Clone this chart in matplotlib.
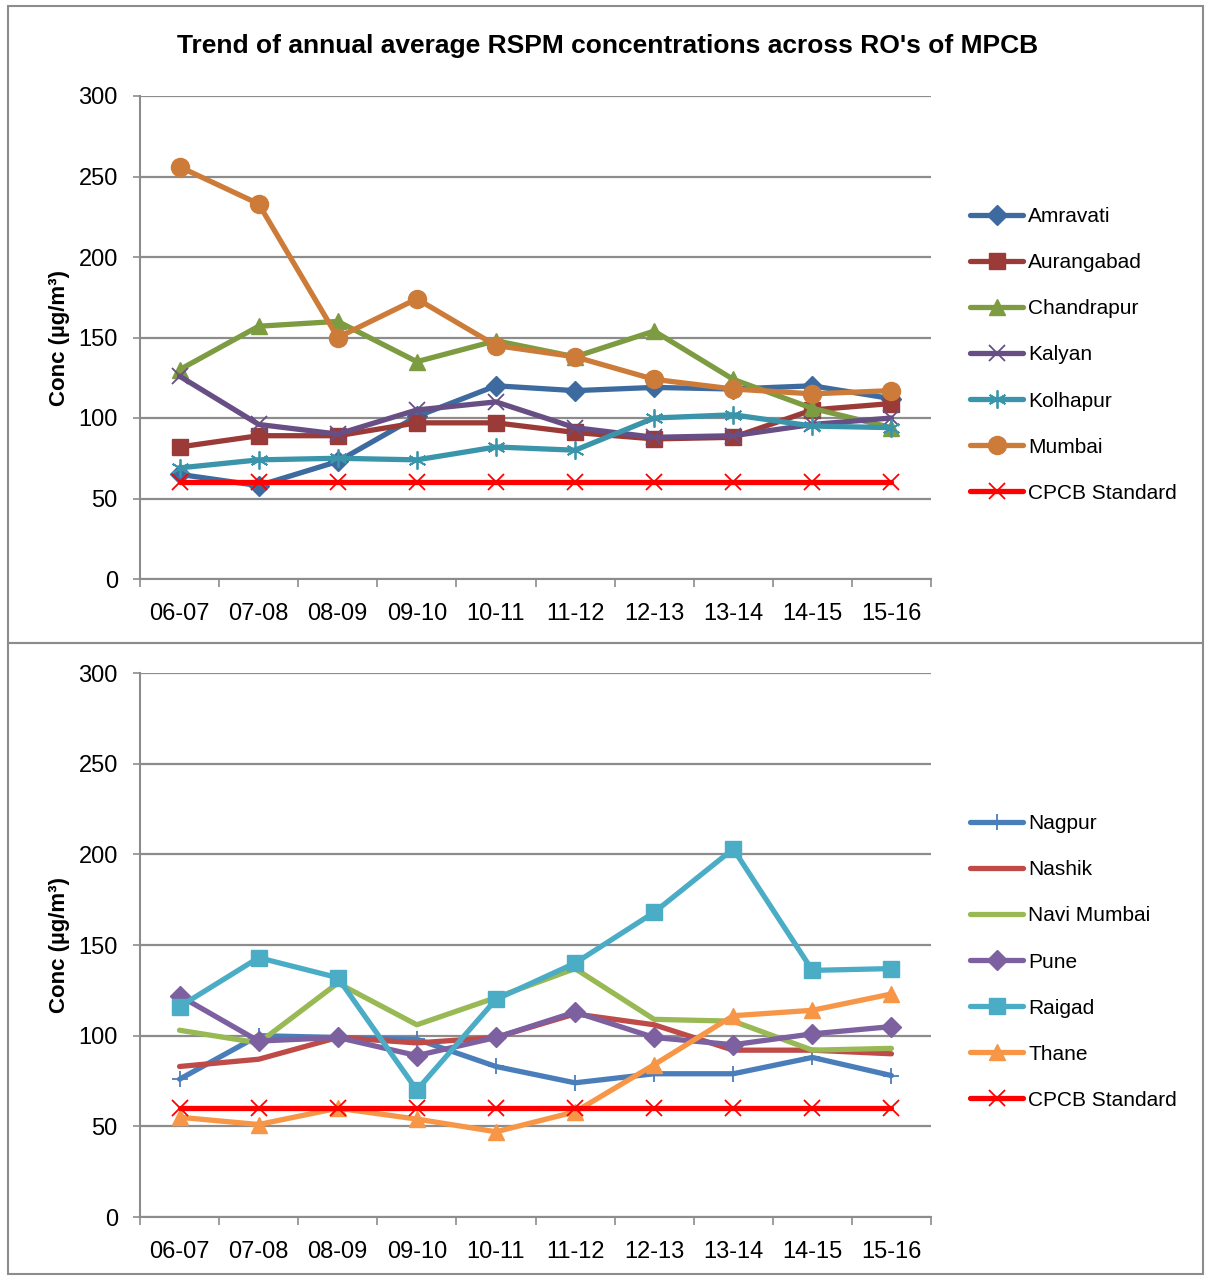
import matplotlib.pyplot as plt
import numpy as np
from matplotlib.patches import Rectangle

plt.rcParams['font.family'] = ['Liberation Sans', 'DejaVu Sans']

# Data
years = ["06-07", "07-08", "08-09", "09-10", "10-11", "11-12", "12-13", "13-14", "14-15", "15-16"]
cpcb = [60, 60, 60, 60, 60, 60, 60, 60, 60, 60]

amravati = [65, 58, 73, 101, 120, 117, 119, 118, 120, 112]
aurangabad = [82, 89, 89, 97, 97, 91, 87, 88, 105, 109]
chandrapur = [130, 157, 160, 135, 148, 138, 154, 124, 106, 94]
kalyan = [126, 96, 90, 105, 110, 94, 88, 89, 96, 100]
kolhapur = [69, 74, 75, 74, 82, 80, 100, 102, 95, 94]
mumbai = [256, 233, 150, 174, 145, 138, 124, 118, 115, 117]

nagpur = [76, 100, 99, 98, 83, 74, 79, 79, 88, 78]
nashik = [83, 87, 99, 96, 99, 112, 106, 92, 92, 90]
navi_mumbai = [103, 96, 129, 106, 121, 137, 109, 108, 92, 93]
pune = [122, 97, 99, 89, 99, 113, 99, 95, 101, 105]
raigad = [116, 143, 132, 70, 120, 140, 168, 203, 136, 137]
thane = [55, 51, 60, 54, 47, 58, 84, 111, 114, 123]

top_series = [
    ("Amravati", amravati, "#3E6B9F", "D", 10),
    ("Aurangabad", aurangabad, "#9B3B38", "s", 11),
    ("Chandrapur", chandrapur, "#7D9C42", "^", 12),
    ("Kalyan", kalyan, "#674E85", "x", 11),
    ("Kolhapur", kolhapur, "#3A95AA", (6, 2, 0), 13),
    ("Mumbai", mumbai, "#CD7B38", "o", 13),
    ("CPCB Standard", cpcb, "#FF0000", "x", 12),
]
bottom_series = [
    ("Nagpur", nagpur, "#4A7EBB", "+", 12),
    ("Nashik", nashik, "#BE4B48", None, 0),
    ("Navi Mumbai", navi_mumbai, "#98B954", None, 0),
    ("Pune", pune, "#7D60A0", "D", 10),
    ("Raigad", raigad, "#4BACC6", "s", 12),
    ("Thane", thane, "#F79646", "^", 12),
    ("CPCB Standard", cpcb, "#FF0000", "x", 12),
]

W, H = 1206, 1276
fig = plt.figure(figsize=(W / 100, H / 100), dpi=100)

# panel frames
fig.add_artist(Rectangle((8 / W, 1 - 643 / H), (1203 - 8) / W, (643 - 6) / H,
                         transform=fig.transFigure, fill=False, ec="#8c8c8c", lw=1.5))
fig.add_artist(Rectangle((8 / W, 1 - 1274 / H), (1203 - 8) / W, (1274 - 643) / H,
                         transform=fig.transFigure, fill=False, ec="#8c8c8c", lw=1.5))

x = np.arange(len(years))


def draw_panel(ax, series, legend_y):
    for name, vals, col, mk, ms in series:
        thin = mk in ("x", "+", (6, 2, 0))
        ax.plot(x, vals, color=col, lw=3.8, marker=mk, markersize=ms,
                markerfacecolor=col, markeredgecolor=col,
                markeredgewidth=1.3 if thin else 1.0, label=name,
                solid_capstyle="round", solid_joinstyle="round")
    ax.set_xlim(-0.5, len(years) - 0.5)
    ax.set_ylim(0, 300)
    ax.set_yticks(np.arange(0, 301, 50))
    ax.yaxis.grid(True, color="#8c8c8c", lw=1.6)
    ax.set_axisbelow(True)
    ax.set_xticks(np.arange(-0.5, len(years), 1.0))
    ax.set_xticklabels([])
    ax.set_xticks(x, minor=True)
    ax.set_xticklabels(years, minor=True, fontsize=17)
    ax.tick_params(axis="x", which="major", direction="out", length=6, color="#8c8c8c", width=1.2)
    ax.tick_params(axis="x", which="minor", length=0, pad=17)
    ax.tick_params(axis="y", direction="out", length=5, color="#8c8c8c", width=1.2,
                   labelsize=17, pad=11)
    for s in ("top", "right"):
        ax.spines[s].set_visible(False)
    for s in ("left", "bottom"):
        ax.spines[s].set_color("#8c8c8c")
        ax.spines[s].set_linewidth(1.5)
    ax.set_ylabel("Conc (µg/m³)", fontsize=16, fontweight="bold", labelpad=6)
    ax.legend(loc="center left", bbox_to_anchor=(970 / W, legend_y), bbox_transform=fig.transFigure,
              frameon=False, fontsize=15, handlelength=2.55, handletextpad=0.25,
              labelspacing=1.3, borderpad=0, borderaxespad=0)


ax1 = fig.add_axes([140 / W, 1 - 579 / H, (931 - 140) / W, (579 - 96) / H])
draw_panel(ax1, top_series, 1 - 355 / H)
ax2 = fig.add_axes([140 / W, 1 - 1217 / H, (931 - 140) / W, (1217 - 673) / H])
draw_panel(ax2, bottom_series, 1 - 962 / H)

fig.text(608 / W, 1 - 46 / H, "Trend of annual average RSPM concentrations across RO's of MPCB",
         ha="center", va="center", fontsize=19, fontweight="bold")

fig.savefig("out.png", dpi=100)
